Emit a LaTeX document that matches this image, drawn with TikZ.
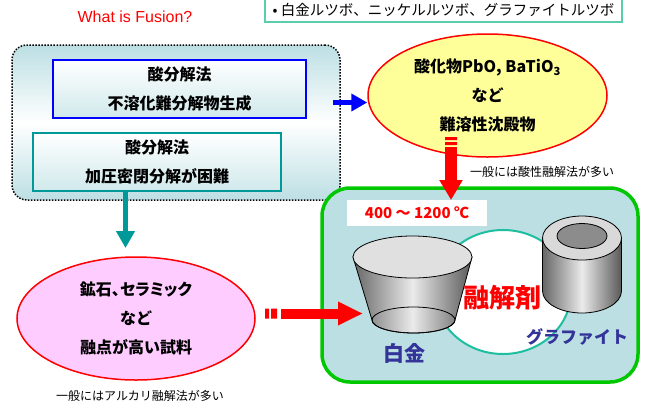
\documentclass[tikz,border=0pt]{standalone}
\usepackage{fontspec}
\setmainfont{Liberation Sans}
\newfontfamily\jp{Noto Sans CJK JP}
\newfontfamily\jpp[RawFeature=+palt]{Noto Sans CJK JP}
\usetikzlibrary{arrows.meta,shapes.geometric,calc}

\definecolor{boxbl}{RGB}{188,223,227}
\definecolor{tealc}{RGB}{0,153,153}
\definecolor{ringc}{RGB}{30,190,160}
\definecolor{listc}{RGB}{90,205,170}
\definecolor{yelc}{RGB}{255,255,153}
\definecolor{pinkc}{RGB}{255,204,255}
\definecolor{navyc}{RGB}{51,51,153}
\definecolor{greenc}{RGB}{0,200,0}

\begin{document}
\begin{tikzpicture}[x=1pt,y=-1pt,
    jpb/.style={font=\jp\bfseries\fontsize{16}{29}\selectfont, align=center},
    panel/.style={draw, line width=1.5pt, minimum width=#1, minimum height=58pt,
      inner sep=0pt, top color=white, bottom color=boxbl!70, jpb},
    oval/.style={ellipse, draw=red, line width=1.5pt, minimum width=239pt,
      minimum height=123pt, inner sep=0pt, jpb},
    note/.style={font=\jp\fontsize{12}{14}\selectfont},
    side/.style={draw, line width=0.8pt, left color=black!60, right color=black!65,
      middle color=black!8}]
  \useasboundingbox (0,0) rectangle (650,405);

  % cim es lista
  \node[red, font=\fontsize{16}{19}\selectfont] (title) at (135,17) {What is Fusion?};
  \node[draw=listc, line width=1.2pt, fill=white, minimum width=357pt, minimum height=24pt,
    inner sep=0pt, font=\jp\fontsize{14.5}{16}\selectfont] (list) at (443.5,10)
    {\textbullet\ 白金ルツボ、ニッケルルツボ、グラファイトルツボ};

  % savas bontas
  \node[draw, line width=1.5pt, dash pattern=on 1.5pt off 1.5pt, rounded corners=15pt,
    minimum width=328pt, minimum height=155pt, top color=boxbl, bottom color=boxbl,
    middle color=white] (acidgroup) at (176,122.5) {};
  \node[panel=253pt, draw=blue] (acid) at (179.5,89) {酸分解法\\不溶化難分解物生成};
  \node[panel=248pt, draw=tealc] (press) at (157,162) {酸分解法\\加圧密閉分解が困難};

  % ellipszisek
  \node[oval, fill=yelc] (oxide) at (487.5,95.5) {酸化物PbO, BaTiO\textsubscript{3}\\など\\難溶性沈殿物};
  \node[oval, fill=pinkc, minimum width=238pt] (ore) at (136,318.5)
    {{\jpp 鉱石、セラミック}\\など\\融点が高い試料};
  \node[note] (acidnote) at (542,172) {一般には酸性融解法が多い};
  \node[note] (alknote) at (140,396) {一般にはアルカリ融解法が多い};

  % olvasztas
  \node[draw=greenc, line width=3.5pt, fill=boxbl, rounded corners=28pt,
    minimum width=316pt, minimum height=194pt] (flux) at (480,285) {};
  \node[fill=white, text=red, minimum width=140pt, minimum height=26pt, inner sep=0pt,
    font=\jp\bfseries\fontsize{15}{18}\selectfont] (temp) at (417,213) {400 ～ 1200 ℃};
  \draw[ringc, line width=2pt, fill=white] (503,292) ellipse [x radius=68, y radius=62];

  % platina tegely
  \draw[side] (353,257) -- (372,320) arc[start angle=180, end angle=0, x radius=41.5, y radius=13]
    -- (472,257) -- cycle;
  \draw[line width=0.8pt] (413.5,320) ellipse [x radius=41.5, y radius=13];
  \draw[line width=0.8pt, fill=black!12] (412.5,257) ellipse [x radius=59.5, y radius=21];

  % grafit tegely
  \draw[side] (542.5,238) -- (542.5,291) arc[start angle=180, end angle=0, x radius=39.5, y radius=22]
    -- (621.5,238) -- cycle;
  \draw[line width=0.8pt, fill=black!15] (582,238) ellipse [x radius=39.5, y radius=22];
  \draw[line width=0.8pt, fill=black!45] (582,236) ellipse [x radius=25, y radius=12.5];

  % feliratok
  \node[red, font=\jp\bfseries\fontsize{26}{30}\selectfont] (agent) at (502,298) {融解剤};
  \node[navyc, font=\jp\bfseries\fontsize{21}{24}\selectfont] (pt) at (404,353) {白金};
  \node[navyc, font=\jp\bfseries\fontsize{17}{20}\selectfont] (gr) at (577,337) {グラファイト};

  % nyilak
  \coordinate (b0) at (333,102.5);
  \coordinate (t0) at (125.5,191);
  \coordinate (t1) at (125.5,248);
  \coordinate (v0) at (451,147);
  \coordinate (v1) at (451,200);
  \coordinate (h0) at (281,313.5);
  \coordinate (h1) at (363,313.5);
  \draw[blue, line width=5.5pt, -{Triangle[width=17pt,length=16pt]}] (b0) -- (b0 -| oxide.west);
  \draw[tealc, line width=5pt, -{Triangle[width=18pt,length=17pt]}] (t0) -- (t1);
  \draw[red, line width=12pt, -{Triangle[width=22pt,length=20pt]}] (v0) -- (v1);
  \fill[red] ($(v0)+(-6,-10)$) rectangle ($(v0)+(6,-7)$)
             ($(v0)+(-6,-5)$) rectangle ($(v0)+(6,-2)$);
  \draw[red, line width=10pt, -{Triangle[width=22pt,length=25pt]}] (h0) -- (h1);
  \fill[red] ($(h0)+(-16,-5)$) rectangle ($(h0)+(-12,5)$)
             ($(h0)+(-10,-5)$) rectangle ($(h0)+(-4,5)$);
\end{tikzpicture}
\end{document}
